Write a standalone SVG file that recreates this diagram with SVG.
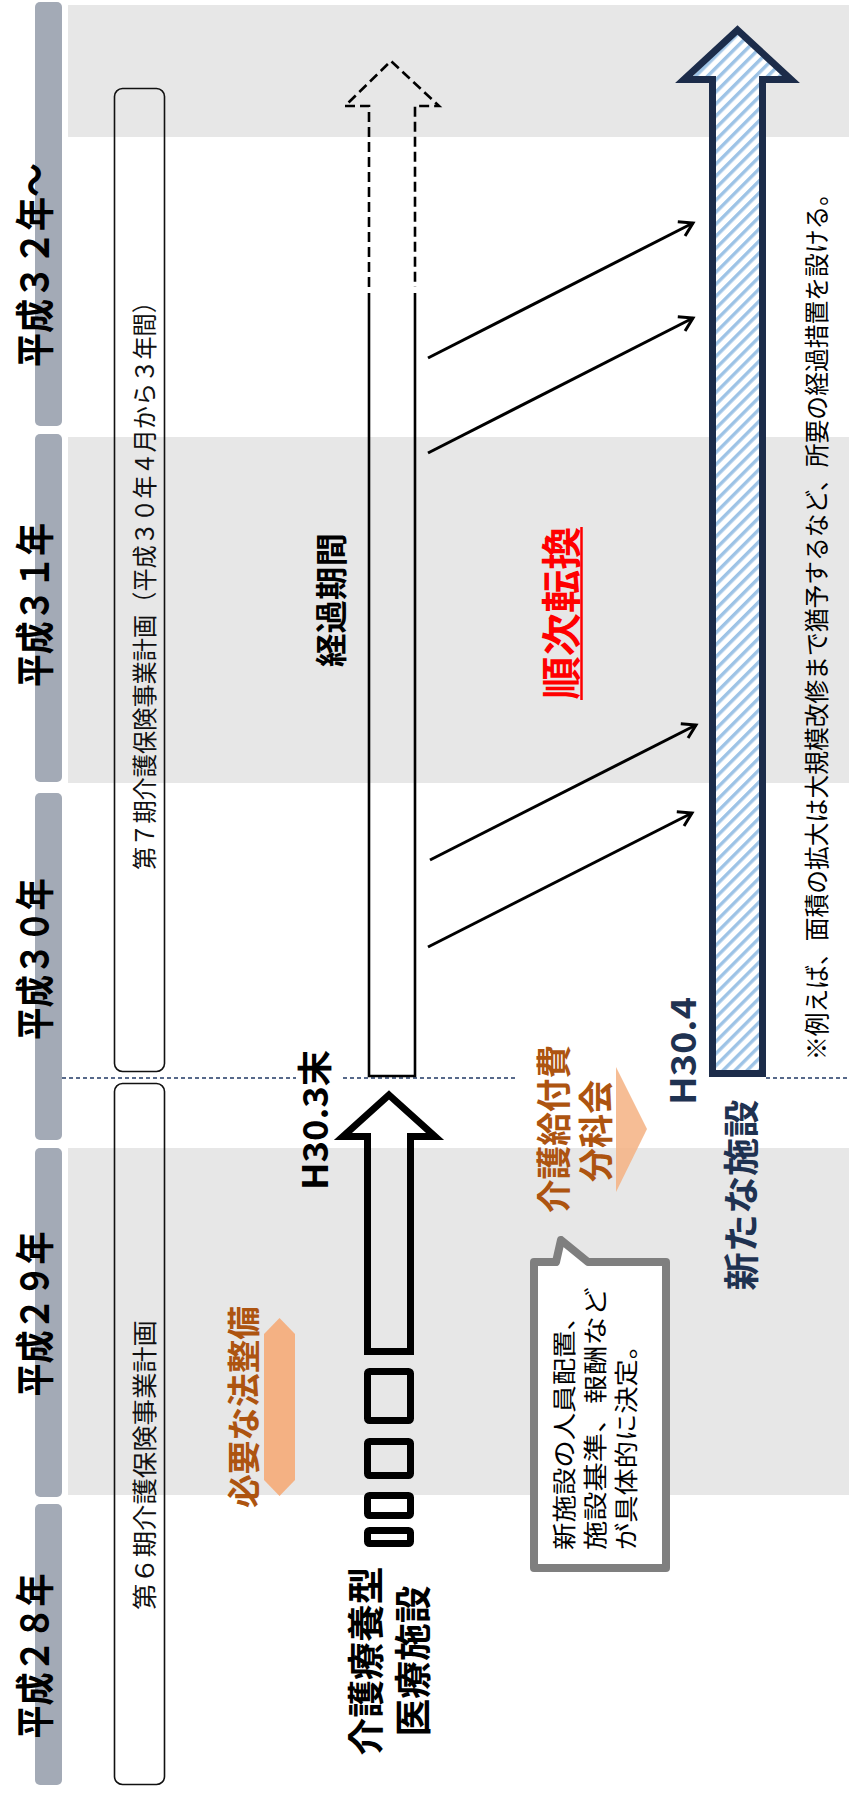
<svg xmlns="http://www.w3.org/2000/svg" width="849" height="1793" viewBox="0 0 849 1793">
<style>
text{font-family:"Noto Sans CJK JP","Noto Sans CJK SC",sans-serif;text-anchor:middle;dominant-baseline:central}
.yr{font-size:39px;font-weight:700;fill:#000}
.plan{font-size:25px;fill:#111}
.b{font-weight:700}
.brown{fill:#ad5410;font-weight:700}
.navy{fill:#1f3251;font-weight:700}
.band{fill:#e7e7e7}
.ybar{fill:#a3aab6}
.pbox{fill:none;stroke:#111;stroke-width:1.6}
.arr{stroke:#000;stroke-width:3;fill:none;marker-end:url(#ah)}
.sq{fill:none;stroke:#000;stroke-width:7}
.dl{stroke:#203864;stroke-width:1.5;stroke-dasharray:4 3}
</style>
<defs>
<marker id="ah" markerUnits="userSpaceOnUse" markerWidth="22" markerHeight="22" refX="17" refY="11" orient="auto">
<path d="M4,3 L17,11 L4,19" fill="none" stroke="#000" stroke-width="3"/>
</marker>
<pattern id="hatch" patternUnits="userSpaceOnUse" width="8.5" height="8.5" patternTransform="rotate(45)">
<rect width="8.5" height="8.5" fill="#fff"/>
<rect width="3.4" height="8.5" fill="#9dc3e6"/>
</pattern>
</defs>
<rect width="849" height="1793" fill="#fff"/>
<g id="bands">
<rect class="band" x="68" y="5" width="781" height="132"/>
<rect class="band" x="68" y="437" width="781" height="346"/>
<rect class="band" x="68" y="1148" width="781" height="347"/>
</g>
<g id="years">
<rect class="ybar" x="35" y="2" width="27" height="424" rx="5"/>
<rect class="ybar" x="35" y="434" width="27" height="348" rx="5"/>
<rect class="ybar" x="35" y="793" width="27" height="347" rx="5"/>
<rect class="ybar" x="35" y="1148" width="27" height="349" rx="5"/>
<rect class="ybar" x="35" y="1504" width="27" height="281" rx="5"/>
<text class="yr" transform="translate(32,265) rotate(-90)" textLength="204" lengthAdjust="spacingAndGlyphs">平成３２年〜</text>
<text class="yr" transform="translate(32,605) rotate(-90)" textLength="164" lengthAdjust="spacingAndGlyphs">平成３１年</text>
<text class="yr" transform="translate(32,959) rotate(-90)" textLength="162" lengthAdjust="spacingAndGlyphs">平成３０年</text>
<text class="yr" transform="translate(32,1314) rotate(-90)" textLength="165" lengthAdjust="spacingAndGlyphs">平成２９年</text>
<text class="yr" transform="translate(32,1656) rotate(-90)" textLength="165" lengthAdjust="spacingAndGlyphs">平成２８年</text>
</g>
<g id="plan7">
<rect class="pbox" x="114.5" y="88.5" width="50" height="983" rx="8"/>
<text class="plan" transform="translate(142.5,580) rotate(-90)" textLength="580" lengthAdjust="spacingAndGlyphs">第７期介護保険事業計画（平成３０年４月から３年間）</text>
</g>
<g id="plan6">
<rect class="pbox" x="114.5" y="1083.5" width="50" height="701" rx="8"/>
<text class="plan" transform="translate(142.5,1465) rotate(-90)" textLength="290" lengthAdjust="spacingAndGlyphs">第６期介護保険事業計画</text>
</g>
<g id="dashed-lines">
<line class="dl" x1="62" y1="1078" x2="296" y2="1078"/>
<line class="dl" x1="343" y1="1078" x2="515" y2="1078"/>
<line class="dl" x1="766" y1="1078" x2="849" y2="1078"/>
</g>
<g id="transition-period">
<path d="M369,287 L369,106 L345,106 L391,61 L439,106 L415,106 L415,287" fill="none" stroke="#000" stroke-width="2.6" stroke-dasharray="10 5"/>
<path d="M369,293 L369,1076 L415,1076 L415,293" fill="none" stroke="#000" stroke-width="2.6"/>
<text class="b" transform="translate(329,600) rotate(-90)" font-size="32" textLength="134" lengthAdjust="spacingAndGlyphs">経過期間</text>
</g>
<g id="old-facility">
<path d="M389,1095 L435,1136.5 L410.5,1136.5 L410.5,1351.5 L367.5,1351.5 L367.5,1136.5 L343,1136.5 Z" fill="none" stroke="#000" stroke-width="7"/>
<rect class="sq" x="367.5" y="1371.5" width="43" height="49" rx="2"/>
<rect class="sq" x="367.5" y="1441.5" width="43" height="34" rx="2"/>
<rect class="sq" x="367.5" y="1495.5" width="43" height="20" rx="2"/>
<rect class="sq" x="367.5" y="1530.5" width="43" height="13" rx="2"/>
<text class="b" transform="translate(364,1661) rotate(-90)" font-size="37" textLength="189" lengthAdjust="spacingAndGlyphs">介護療養型</text>
<text class="b" transform="translate(411,1661) rotate(-90)" font-size="37" textLength="151" lengthAdjust="spacingAndGlyphs">医療施設</text>
</g>
<g id="h303">
<text class="b" transform="translate(312,1120) rotate(-90)" font-size="35" textLength="140" lengthAdjust="spacingAndGlyphs">H30.3末</text>
</g>
<g id="law">
<polygon points="279.5,1318 295,1334 295,1480 279.5,1496 264,1480 264,1334" fill="#f4b183"/>
<text class="brown" transform="translate(242,1407) rotate(-90)" font-size="33" textLength="202" lengthAdjust="spacingAndGlyphs">必要な法整備</text>
</g>
<g id="council">
<polygon points="616,1067 647,1129 616,1192" fill="#f4b183" opacity="0.85"/>
<text class="brown" transform="translate(551,1129) rotate(-90)" font-size="35" textLength="168" lengthAdjust="spacingAndGlyphs">介護給付費</text>
<text class="brown" transform="translate(593,1131) rotate(-90)" font-size="35" textLength="102" lengthAdjust="spacingAndGlyphs">分科会</text>
</g>
<g id="callout">
<path d="M534,1262 L556,1262 L561,1240 L588,1262 L666,1262 L666,1568 L534,1568 Z" fill="#fff" stroke="#7f7f7f" stroke-width="8" stroke-linejoin="round"/>
<text transform="translate(562,1550) rotate(-90)" font-size="24" style="text-anchor:start" textLength="247" lengthAdjust="spacingAndGlyphs">新施設の人員配置、</text>
<text transform="translate(593,1550) rotate(-90)" font-size="24" style="text-anchor:start" textLength="263" lengthAdjust="spacingAndGlyphs">施設基準、報酬など</text>
<text transform="translate(624,1550) rotate(-90)" font-size="24" style="text-anchor:start" textLength="218" lengthAdjust="spacingAndGlyphs">が具体的に決定。</text>
</g>
<g id="new-facility">
<path d="M737.5,30 L791,79.5 L762.5,79.5 L762.5,1073.5 L712.5,1073.5 L712.5,79.5 L684,79.5 Z" fill="url(#hatch)" stroke="#1c2c4a" stroke-width="7"/>
<text class="navy" transform="translate(680,1051) rotate(-90)" font-size="35" textLength="108" lengthAdjust="spacingAndGlyphs">H30.4</text>
<text class="navy" transform="translate(739,1195) rotate(-90)" font-size="36" textLength="191" lengthAdjust="spacingAndGlyphs">新たな施設</text>
</g>
<g id="conversion">
<text transform="translate(559,613) rotate(-90)" font-size="40" font-weight="700" fill="#ff0000" textLength="173" lengthAdjust="spacingAndGlyphs">順次転換</text>
<line x1="581.5" y1="527" x2="581.5" y2="700" stroke="#ff0000" stroke-width="2.5"/>
</g>
<g id="connectors">
<line class="arr" x1="428" y1="358" x2="693" y2="223"/>
<line class="arr" x1="428" y1="453" x2="693" y2="318"/>
<line class="arr" x1="430" y1="860" x2="696" y2="725"/>
<line class="arr" x1="428" y1="947" x2="692" y2="813"/>
</g>
<g id="note">
<text transform="translate(815,621) rotate(-90)" font-size="25" textLength="878" lengthAdjust="spacingAndGlyphs">※例えば、面積の拡大は大規模改修まで猶予するなど、所要の経過措置を設ける。</text>
</g>
</svg>
